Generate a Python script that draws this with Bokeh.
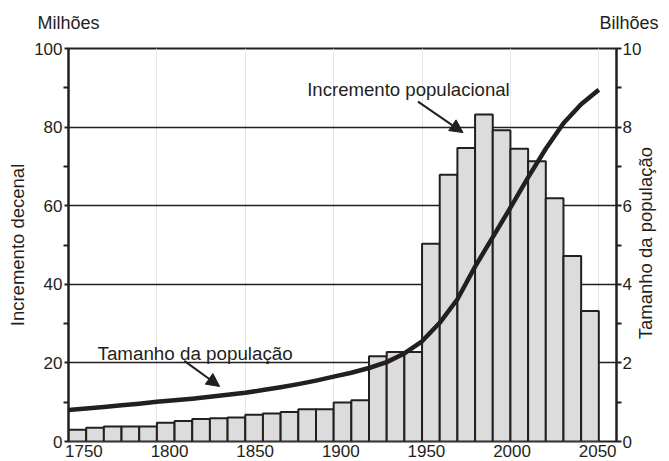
import math
from bokeh.plotting import figure
from bokeh.models import (Range1d, LinearAxis, FixedTicker, Label, Arrow,
                          NormalHead, ColumnDataSource, Grid)
from bokeh.embed import file_html
from bokeh.resources import INLINE

# ---- data ----
decades = [1750, 1760, 1770, 1780, 1790, 1800, 1810, 1820, 1830, 1840,
           1850, 1860, 1870, 1880, 1890, 1900, 1910, 1920, 1930, 1940,
           1950, 1960, 1970, 1980, 1990, 2000, 2010, 2020, 2030, 2040]
increment_millions = [3.0, 3.5, 3.8, 3.8, 3.8, 4.8, 5.2, 5.7, 5.9, 6.1,
                      6.8, 7.1, 7.5, 8.2, 8.2, 9.9, 10.5, 21.7, 22.8, 22.8,
                      50.3, 67.9, 74.7, 83.2, 79.2, 74.5, 71.3, 61.9, 47.2, 33.2]

pop_years = [1750, 1760, 1770, 1780, 1790, 1800, 1810, 1820, 1830, 1840,
             1850, 1860, 1870, 1880, 1890, 1900, 1910, 1920, 1930, 1940,
             1950, 1960, 1970, 1980, 1990, 2000, 2010, 2020, 2030, 2040, 2050]
pop_billions = [0.80, 0.84, 0.88, 0.92, 0.96, 1.01, 1.05, 1.09, 1.14, 1.19,
                1.24, 1.31, 1.38, 1.46, 1.55, 1.65, 1.75, 1.87, 2.02, 2.24,
                2.55, 3.02, 3.62, 4.45, 5.20, 5.95, 6.72, 7.45, 8.10, 8.58, 8.95]

x_tick_years = [1750, 1800, 1850, 1900, 1950, 2000, 2050]
left_ticks = [0, 20, 40, 60, 80, 100]
left_minor = [10, 30, 50, 70, 90]
right_ticks = [0, 2, 4, 6, 8, 10]
right_minor = [1, 3, 5, 7, 9]
grid_ticks = [20, 40, 60, 80]
unit_labels = {1750: "Milhões", 2060: "\u00a0\u00a0\u00a0\u00a0\u00a0Bilhões"}
right_title = {2.6: "Tamanho da população"}

INK = "#231f20"
FONT = "Liberation Sans"

p = figure(width=669, height=461,
           x_range=Range1d(1750, 2060), y_range=Range1d(0, 100),
           output_backend="svg", toolbar_location=None,
           x_axis_location=None, y_axis_location=None,
           min_border_top=48, min_border_left=68,
           min_border_right=52, min_border_bottom=20)
p.extra_x_ranges = {"lab": Range1d(1741, 2061)}
p.extra_y_ranges = {"bil": Range1d(0, 10)}
p.outline_line_color = INK
p.outline_line_width = 2
p.background_fill_color = "white"
p.border_fill_color = "white"

# grid
grid = Grid(dimension=1, ticker=FixedTicker(ticks=grid_ticks),
            grid_line_color=INK, grid_line_width=1.6)
p.add_layout(grid)

# bars
src = ColumnDataSource(dict(x=[d + 5 for d in decades], top=increment_millions))
p.vbar(x="x", top="top", bottom=0, width=10, source=src,
       fill_color="#dcdcdc", line_color=INK, line_width=2)

# population curve
p.line(pop_years, pop_billions, y_range_name="bil",
       line_color=INK, line_width=4.5, line_join="round")

# axes
def style(ax, size="17px"):
    ax.major_label_text_font = FONT
    ax.major_label_text_font_size = size
    ax.major_label_text_color = INK
    ax.axis_label_text_font = FONT
    ax.axis_label_text_font_size = "18.5px"
    ax.axis_label_text_font_style = "normal"
    ax.axis_label_text_color = INK
    ax.axis_line_color = INK
    ax.axis_line_width = 2
    ax.major_tick_line_color = INK
    ax.minor_tick_line_color = INK
    ax.major_tick_line_width = 2
    ax.minor_tick_line_width = 2

def no_ticks(ax):
    ax.major_tick_out = 0
    ax.major_tick_in = 0
    ax.minor_tick_out = 0
    ax.minor_tick_in = 0

yl = LinearAxis(ticker=FixedTicker(ticks=left_ticks, minor_ticks=left_minor),
                axis_label="Incremento decenal")
style(yl)
yl.major_tick_out = 4
yl.major_tick_in = 0
yl.minor_tick_out = 5
yl.minor_tick_in = 0
yl.major_label_standoff = 1
yl.axis_label_standoff = 3
p.add_layout(yl, "left")

yr = LinearAxis(y_range_name="bil",
                ticker=FixedTicker(ticks=right_ticks, minor_ticks=right_minor))
style(yr)
yr.major_tick_out = 5
yr.major_tick_in = 0
yr.minor_tick_out = 5
yr.minor_tick_in = 0
yr.major_label_standoff = 1
p.add_layout(yr, "right")

# right axis title, reading bottom-to-top
yr2 = LinearAxis(y_range_name="bil", ticker=FixedTicker(ticks=list(right_title.keys())),
                 major_label_overrides=right_title)
style(yr2, size="18.5px")
yr2.axis_line_color = None
no_ticks(yr2)
yr2.major_label_orientation = math.pi / 2
yr2.major_label_standoff = 1
p.add_layout(yr2, "right")

xb = LinearAxis(x_range_name="lab", ticker=FixedTicker(ticks=x_tick_years))
style(xb)
no_ticks(xb)
xb.major_label_standoff = 3
xb.axis_line_color = None
p.add_layout(xb, "below")

# unit labels above the two value axes
xt = LinearAxis(ticker=FixedTicker(ticks=list(unit_labels.keys())),
                major_label_overrides=unit_labels)
style(xt, size="18px")
xt.axis_line_color = None
no_ticks(xt)
xt.major_label_standoff = 16
p.add_layout(xt, "above")

# annotations
p.add_layout(Label(x=1885, y=89.5, text="Incremento populacional",
                   text_font=FONT, text_font_size="18.6px", text_color=INK,
                   text_baseline="alphabetic"))
p.add_layout(Label(x=1766.4, y=22.5, text="Tamanho da população",
                   text_font=FONT, text_font_size="18.8px", text_color=INK,
                   text_baseline="alphabetic"))

for (x0, y0, x1, y1) in [(1947.7, 86.5, 1973.2, 78.6), (1815.5, 20.5, 1835.5, 14.0)]:
    p.add_layout(Arrow(end=NormalHead(size=13, fill_color=INK, line_color=INK, line_width=1),
                       x_start=x0, y_start=y0, x_end=x1, y_end=y1,
                       line_color=INK, line_width=2))

open("out.html", "w").write(file_html(p, INLINE))
